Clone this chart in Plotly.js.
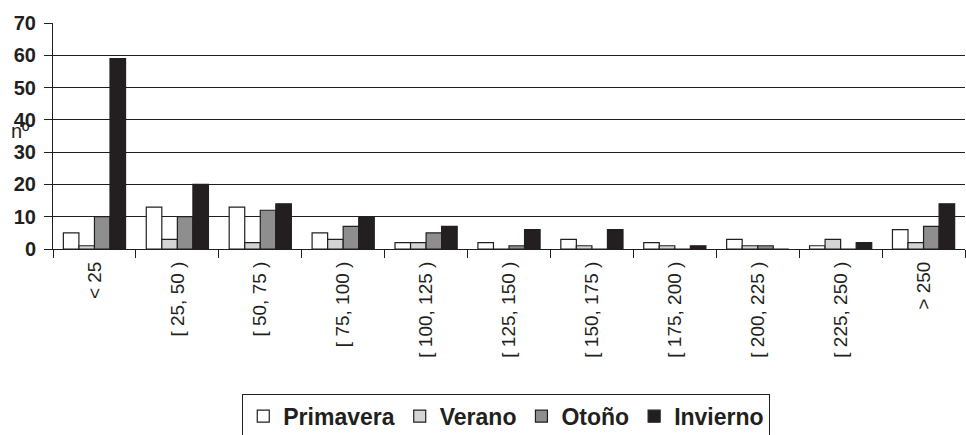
<!DOCTYPE html>
<html><head><meta charset="utf-8">
<script src="https://cdn.plot.ly/plotly-3.0.1.min.js"></script>
<style>body{margin:0;background:#fff}#c{width:966px;height:435px}</style>
</head><body><div id="c"></div>
<script>
const categories = ["< 25","[ 25, 50 )","[ 50, 75 )","[ 75, 100 )","[ 100, 125 )","[ 125, 150 )","[ 150, 175 )","[ 175, 200 )","[ 200, 225 )","[ 225, 250 )","> 250"];
const primavera = [5, 13, 13, 5, 2, 2, 3, 2, 3, 1, 6];
const verano    = [1, 3, 2, 3, 2, 0, 1, 1, 1, 3, 2];
const otono     = [10, 10, 12, 7, 5, 1, 0, 0, 1, 0, 7];
const invierno  = [59, 20, 14, 10, 7, 6, 6, 1, 0, 2, 14];
const seriesNames = ["Primavera","Verano","Otoño","Invierno"];
const colors = ["#ffffff","#d4d4d4","#8e8e8e","#231f20"];
const data = [primavera, verano, otono, invierno].map((v,i)=>({
  type:"bar", x:categories, y:v, name:seriesNames[i],
  marker:{color:colors[i], line:{color:"#231f20", width:1.2}}
}));
const font = "Arial, 'Liberation Sans', sans-serif";
const layout = {
  width:966, height:435,
  margin:{l:53, r:1, t:23, b:186},
  paper_bgcolor:"#fff", plot_bgcolor:"#fff",
  barmode:"group", bargap:0.25, bargroupgap:0,
  font:{family:font, color:"#231f20"},
  xaxis:{type:"category", tickson:"boundaries", ticks:"outside", ticklen:8, tickcolor:"#231f20",
    tickangle:-90, tickfont:{size:19, color:"#231f20"}, ticklabelstandoff:4, automargin:false,
    showline:true, linecolor:"#231f20", linewidth:1, showgrid:false, fixedrange:true},
  yaxis:{range:[0,70], dtick:10, tick0:0, ticks:"outside", ticklen:8, tickcolor:"#231f20",
    tickfont:{size:20, color:"#231f20", weight:"bold"}, ticklabelstandoff:4, automargin:false,
    showgrid:true, gridcolor:"#231f20", gridwidth:1, showline:true, linecolor:"#231f20", linewidth:1,
    zeroline:true, zerolinecolor:"#231f20", zerolinewidth:1},
  showlegend:true,
  legend:{orientation:"h", xref:"paper", x:0.497, xanchor:"center", yref:"container", y:0.095, yanchor:"top",
    bordercolor:"#231f20", borderwidth:1, font:{size:23, weight:"bold", color:"#231f20"},
    itemwidth:30, tracegroupgap:0},
  annotations:[{text:"nº", xref:"paper", yref:"paper", x:-0.036, y:0.52, showarrow:false,
    font:{size:20, color:"#231f20"}, xanchor:"center", yanchor:"middle"}]
};
Plotly.newPlot("c", data, layout, {displayModeBar:false, staticPlot:true});
</script></body></html>
